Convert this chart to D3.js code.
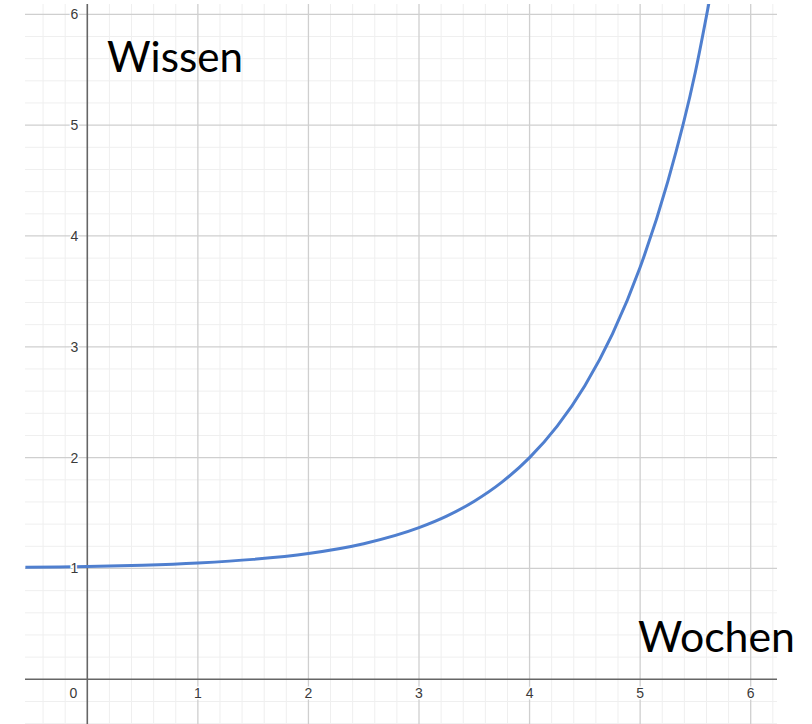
<!DOCTYPE html>
<html><head><meta charset="utf-8">
<script src="https://cdn.jsdelivr.net/npm/d3@7"></script>
<style>body{margin:0;background:#fff}svg{display:block}</style>
</head><body>
<svg id="c" width="812" height="724"></svg>
<script>
// Data
const curveX = [-0.56, -0.25, 0, 0.5, 1, 1.5, 2, 2.5, 3, 3.25, 3.5, 3.75, 4, 4.25, 4.5, 4.75, 5, 5.25, 5.5, 5.65];
const curveY = [1.011, 1.014, 1.018, 1.030, 1.050, 1.082, 1.135, 1.223, 1.368, 1.472, 1.607, 1.779, 2.0, 2.284, 2.649, 3.117, 3.718, 4.490, 5.482, 6.25];
const xTicks = [0, 1, 2, 3, 4, 5, 6];
const yTicks = [1, 2, 3, 4, 5, 6];
const yLabel = "Wissen";
const xLabel = "Wochen";

const svg = d3.select("#c");
const L = 25, R = 777, T = 4, B = 724;
const x = d3.scaleLinear().domain([0, 6]).range([87.3, 750.7]);
const y = d3.scaleLinear().domain([0, 6]).range([679.3, 14.3]);

const defs = svg.append("defs");
defs.append("clipPath").attr("id", "clip").append("rect")
  .attr("x", L).attr("y", T).attr("width", R - L).attr("height", B - T);

const g = svg.append("g").attr("clip-path", "url(#clip)");

// grid
const xMin = x.invert(L), xMax = x.invert(R), yMin = y.invert(B), yMax = y.invert(T);
const minorX = d3.range(Math.ceil(xMin * 5), Math.floor(xMax * 5) + 1).map(d => d / 5).filter(d => Math.abs(d - Math.round(d)) > 1e-6);
const minorY = d3.range(Math.ceil(yMin * 5), Math.floor(yMax * 5) + 1).map(d => d / 5).filter(d => Math.abs(d - Math.round(d)) > 1e-6);
const majorX = d3.range(Math.ceil(xMin), Math.floor(xMax) + 1).filter(d => d !== 0);
const majorY = d3.range(Math.ceil(yMin), Math.floor(yMax) + 1).filter(d => d !== 0);

g.selectAll(".mnx").data(minorX).join("line")
  .attr("x1", d => x(d)).attr("x2", d => x(d)).attr("y1", T).attr("y2", B)
  .attr("stroke", "#efefef").attr("stroke-width", 1);
g.selectAll(".mny").data(minorY).join("line")
  .attr("y1", d => y(d)).attr("y2", d => y(d)).attr("x1", L).attr("x2", R)
  .attr("stroke", "#efefef").attr("stroke-width", 1);
g.selectAll(".mjx").data(majorX).join("line")
  .attr("x1", d => x(d)).attr("x2", d => x(d)).attr("y1", T).attr("y2", B)
  .attr("stroke", "#cfcfcf").attr("stroke-width", 1.3);
g.selectAll(".mjy").data(majorY).join("line")
  .attr("y1", d => y(d)).attr("y2", d => y(d)).attr("x1", L).attr("x2", R)
  .attr("stroke", "#cfcfcf").attr("stroke-width", 1.3);

// axes
g.append("line").attr("x1", x(0)).attr("x2", x(0)).attr("y1", T).attr("y2", B)
  .attr("stroke", "#666").attr("stroke-width", 1.6);
g.append("line").attr("y1", y(0)).attr("y2", y(0)).attr("x1", L).attr("x2", R)
  .attr("stroke", "#666").attr("stroke-width", 1.6);

// tick labels
const tf = "Arial, 'Liberation Sans', sans-serif";
svg.selectAll(".xt").data(xTicks).join("text")
  .attr("x", d => d === 0 ? x(0) - 14 : x(d))
  .attr("y", y(0) + 14)
  .attr("text-anchor", "middle").attr("dominant-baseline", "central")
  .attr("font-family", tf).attr("font-size", 14).attr("fill", "#3a3a3a")
  .attr("stroke", "#fff").attr("stroke-width", 3).attr("paint-order", "stroke")
  .text(d => d);
svg.selectAll(".yt").data(yTicks).join("text")
  .attr("x", x(0) - 9)
  .attr("y", d => y(d))
  .attr("text-anchor", "end").attr("dominant-baseline", "central")
  .attr("font-family", tf).attr("font-size", 14).attr("fill", "#3a3a3a")
  .attr("stroke", "#fff").attr("stroke-width", 3).attr("paint-order", "stroke")
  .text(d => d);

// curve
const pts = curveX.map((d, i) => [d, curveY[i]]);
g.append("path").datum(pts)
  .attr("fill", "none").attr("stroke", "#4f7fcf").attr("stroke-width", 3)
  .attr("stroke-linejoin", "round")
  .attr("d", d3.line().x(d => x(d[0])).y(d => y(d[1])).curve(d3.curveMonotoneX));

// big labels
function bigText(txt, x0, base, targetW) {
  const t = svg.append("text").attr("x", x0).attr("y", base)
    .attr("font-family", "Lato, 'Open Sans', sans-serif").attr("font-size", 46)
    .attr("fill", "#000").text(txt);
  const w = t.node().getComputedTextLength();
  t.attr("font-size", 46 * targetW / w);
}
bigText(yLabel, 107, 72, 136);
bigText(xLabel, 638, 652, 157);
</script>
</body></html>
